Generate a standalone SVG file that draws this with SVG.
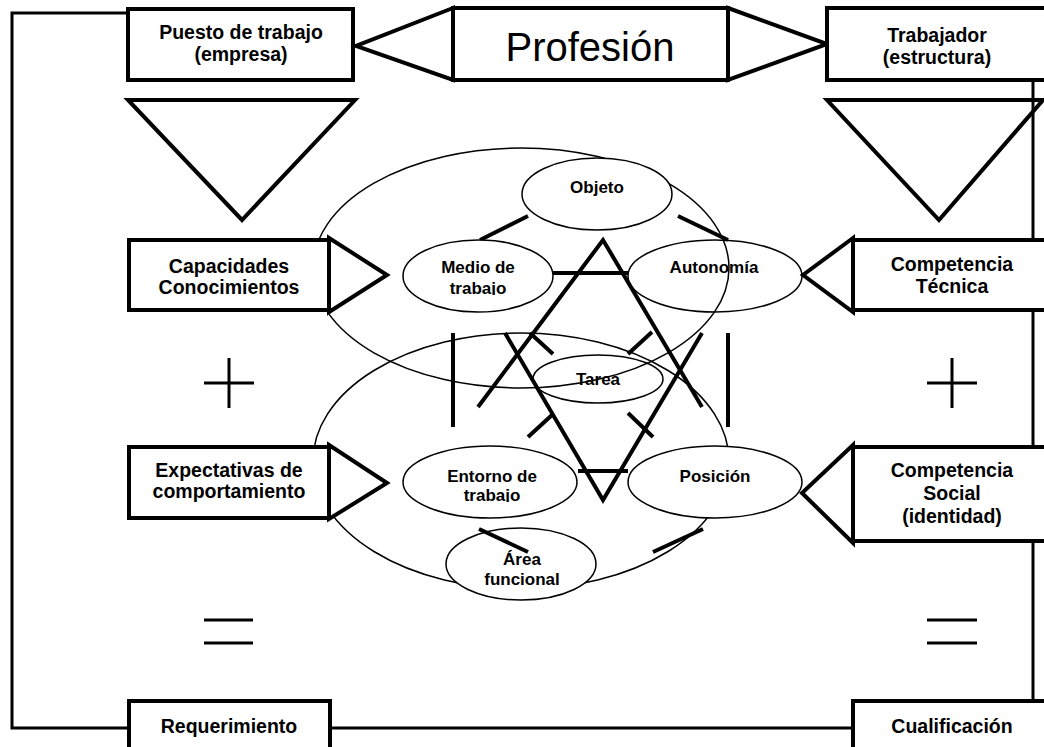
<svg xmlns="http://www.w3.org/2000/svg" width="1044" height="747" viewBox="0 0 1044 747">
<style>
.frame{fill:none;stroke:#000;stroke-width:3}
.box{fill:#fff;stroke:#000;stroke-width:4}
.tri{fill:none;stroke:#000;stroke-width:4;stroke-linejoin:miter}
.trw{fill:#fff;stroke:#000;stroke-width:4;stroke-linejoin:miter}
.thick{fill:none;stroke:#000;stroke-width:4}
.big{fill:none;stroke:#000;stroke-width:1.5}
.ell{fill:#fff;stroke:#000;stroke-width:1.5}
.ell0{fill:none;stroke:#000;stroke-width:1.5}
.lbl{font-family:"Liberation Sans",Arial,sans-serif;font-weight:bold;font-size:19.5px;text-anchor:middle;fill:#000}
.sm{font-size:17px}
.big-t{font-family:"Liberation Sans",Arial,sans-serif;font-size:40px;text-anchor:middle;fill:#000}
</style>
<defs>
<clipPath id="clipMedio"><rect x="400" y="240" width="160" height="55"/></clipPath>
<clipPath id="clipEntorno"><rect x="400" y="447" width="180" height="55"/></clipPath>
<clipPath id="clipArea"><rect x="445" y="528" width="155" height="57"/></clipPath>
</defs>
<rect width="1044" height="747" fill="#fff"/>

<g id="connectors">
<polyline class="frame" points="128,13 12,13 12,728 130,728"/>
<line class="frame" x1="330" y1="728" x2="853" y2="728"/>
<line class="frame" x1="1033" y1="80" x2="1033" y2="701"/>
<polygon class="tri" points="128,100 355,100 242,220"/>
<polygon class="tri" points="827,100 1043,100 939,220"/>
<ellipse class="big" cx="521" cy="268" rx="208" ry="120"/>
<ellipse class="big" cx="521" cy="461" rx="208" ry="128"/>
<line class="thick" x1="480" y1="240" x2="528" y2="216"/>
<line class="thick" x1="678" y1="216" x2="728" y2="240"/>
<line class="thick" x1="553" y1="273" x2="628" y2="273"/>
<line class="thick" x1="578" y1="471" x2="628" y2="471"/>
<polyline class="thick" points="478,407 603,240 702,407"/>
<polyline class="thick" points="505,333 603,500 702,333"/>
<line class="thick" x1="453" y1="333" x2="453" y2="427"/>
<line class="thick" x1="728" y1="333" x2="728" y2="427"/>
<line class="thick" x1="530" y1="333" x2="553" y2="354"/>
<line class="thick" x1="628" y1="354" x2="652" y2="332"/>
<line class="thick" x1="528" y1="437" x2="552" y2="415"/>
<line class="thick" x1="628" y1="413" x2="653" y2="437"/>
<line class="frame" x1="204" y1="383" x2="254" y2="383"/>
<line class="frame" x1="229" y1="358" x2="229" y2="408"/>
<line class="frame" x1="927" y1="383" x2="977" y2="383"/>
<line class="frame" x1="952" y1="358" x2="952" y2="408"/>
<line class="frame" x1="204" y1="620" x2="253" y2="620"/>
<line class="frame" x1="204" y1="643" x2="253" y2="643"/>
<line class="frame" x1="927" y1="620" x2="977" y2="620"/>
<line class="frame" x1="927" y1="643" x2="977" y2="643"/>
</g>

<g id="puesto">
<rect class="box" x="128" y="9" width="225" height="71"/>
<text class="lbl" x="241" y="39">Puesto de trabajo</text>
<text class="lbl" x="241" y="61">(empresa)</text>
</g>
<g id="profesion">
<polygon class="tri" points="453,8 356,46 453,80"/>
<rect class="box" x="453" y="8" width="275" height="72"/>
<polygon class="tri" points="728,8 827,44 728,80"/>
<text class="big-t" x="590" y="61">Profesión</text>
</g>
<g id="trabajador">
<rect class="box" x="827" y="8" width="230" height="72"/>
<text class="lbl" x="937" y="42">Trabajador</text>
<text class="lbl" x="937" y="64">(estructura)</text>
</g>

<g id="capacidades">
<rect class="box" x="129" y="240" width="200" height="70"/>
<polygon class="trw" points="329,238 387,275 329,312"/>
<text class="lbl" x="229" y="273">Capacidades</text>
<text class="lbl" x="229" y="294">Conocimientos</text>
</g>
<g id="expectativas">
<rect class="box" x="129" y="447" width="200" height="71"/>
<polygon class="trw" points="329,445 387,483 329,519"/>
<text class="lbl" x="229" y="477">Expectativas de</text>
<text class="lbl" x="229" y="498">comportamiento</text>
</g>
<g id="comp-tecnica">
<rect class="box" x="853" y="240" width="200" height="70"/>
<polygon class="trw" points="853,238 803,275 853,312"/>
<text class="lbl" x="952" y="271">Competencia</text>
<text class="lbl" x="952" y="293">Técnica</text>
</g>
<g id="comp-social">
<rect class="box" x="853" y="447" width="200" height="94"/>
<polygon class="trw" points="853,445 802,493 853,543"/>
<text class="lbl" x="952" y="477">Competencia</text>
<text class="lbl" x="952" y="500">Social</text>
<text class="lbl" x="952" y="523">(identidad)</text>
</g>
<g id="requerimiento">
<rect class="box" x="129" y="701" width="201" height="60"/>
<text class="lbl" x="229" y="733">Requerimiento</text>
</g>
<g id="cualificacion">
<rect class="box" x="853" y="701" width="200" height="60"/>
<text class="lbl" x="952" y="733">Cualificación</text>
</g>

<g id="objeto">
<ellipse class="ell" cx="597" cy="194" rx="75" ry="36"/>
<text class="lbl sm" x="597" y="193">Objeto</text>
</g>
<g id="medio">
<ellipse class="ell" cx="478" cy="276" rx="75" ry="36"/>
<g clip-path="url(#clipMedio)">
<text class="lbl sm" x="478" y="273">Medio de</text>
<text class="lbl sm" x="478" y="294">trabajo</text>
</g>
</g>
<g id="autonomia">
<ellipse class="ell0" cx="715" cy="276" rx="87" ry="36"/>
<text class="lbl sm" x="714" y="273">Autonomía</text>
</g>
<g id="tarea">
<ellipse class="ell0" cx="598" cy="379" rx="65" ry="24"/>
<text class="lbl sm" x="598" y="385">Tarea</text>
</g>
<g id="entorno">
<ellipse class="ell" cx="490" cy="482" rx="87" ry="36"/>
<g clip-path="url(#clipEntorno)">
<text class="lbl sm" x="492" y="482">Entorno de</text>
<text class="lbl sm" x="492" y="501">trabajo</text>
</g>
</g>
<g id="posicion">
<ellipse class="ell" cx="715" cy="482" rx="87" ry="36"/>
<text class="lbl sm" x="715" y="482">Posición</text>
</g>
<g id="area">
<ellipse class="ell" cx="521" cy="564" rx="75" ry="36"/>
<g clip-path="url(#clipArea)">
<text class="lbl sm" x="522" y="565">Área</text>
<text class="lbl sm" x="522" y="585">funcional</text>
</g>
</g>
<g id="area-links">
<line class="thick" x1="479" y1="529" x2="528" y2="552"/>
<line class="thick" x1="653" y1="552" x2="703" y2="529"/>
</g>
</svg>
